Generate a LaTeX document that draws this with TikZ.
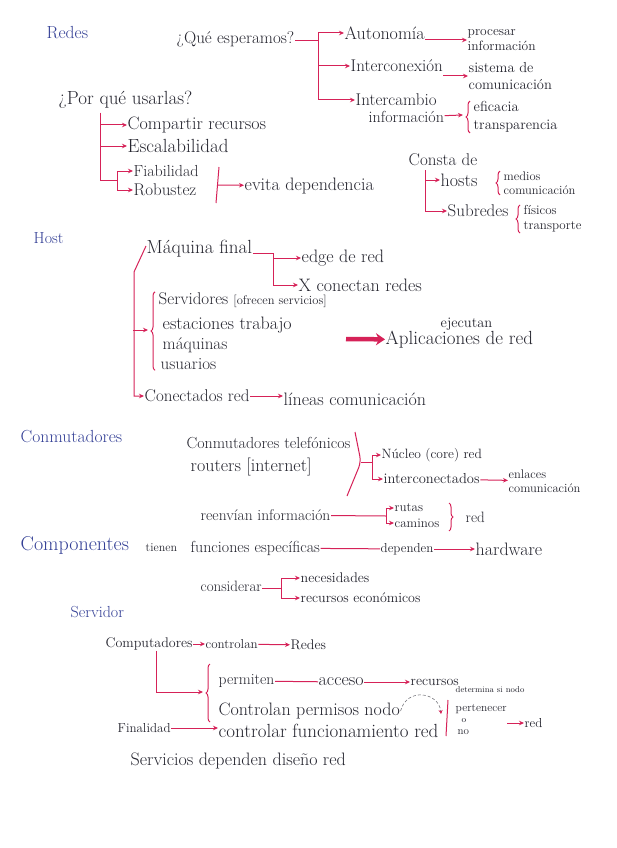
\documentclass[tikz,border=0pt]{standalone}
\usepackage{fontspec}
\usetikzlibrary{arrows.meta, positioning, decorations.pathreplacing, calc}

\definecolor{penblue}{RGB}{52,64,150}
\definecolor{penred}{RGB}{214,34,88}
\definecolor{ink}{RGB}{38,38,48}

\begin{document}
\begin{tikzpicture}[
    x=1pt, y=-1pt,
    sz/.style={font=\fontsize{#1}{#1}\selectfont},
    txt/.style={anchor=west, inner sep=0.5pt, text=ink, sz=17},
    title/.style={txt, text=penblue, sz=17.5},
    note/.style={txt, align=left, sz=13.5},
    small/.style={txt, align=left, sz=12.5},
    tiny/.style={txt, sz=8.5},
    link/.style={penred, line width=1pt},
    arrow/.style={link, -{Stealth[length=5pt, width=4.5pt]}},
    fatarrow/.style={penred, line width=4.5pt, -{Stealth[length=9pt, width=12pt]}},
    brace/.style={link, decorate, decoration={brace, amplitude=4pt}},
    dasharc/.style={ink!70, densely dashed, line width=0.5pt, -{Stealth[length=4pt, width=4pt, color=penred]}}
]
\fill[white] (0,0) rectangle (616,848);
\useasboundingbox (0,0) rectangle (616,848);

% Redes
\node[title] (redes) at (46,33) {Redes};
\node[txt] (espera) at (176,39) {¿Qué esperamos?};
\coordinate (jesp) at (318,41);
\node[txt, sz=18] (auto) at (344,33) {Autonomía};
\node[txt] (inter) at (350,66) {Interconexión};
\node[txt] (camb) at (355,100) {Intercambio};
\node[txt, sz=16] (cinfo) at (368,117) {información};
\draw[link] (espera.east |- jesp) -- (jesp);
\draw[arrow] (jesp) |- (auto);
\draw[arrow] (jesp) |- (inter);
\draw[arrow] (jesp) |- (camb);

\node[note] (proc) at (467,40) {procesar\\[1pt]información};
\node[note, sz=14.5] (sist) at (468,76) {sistema de\\[2pt]comunicación};
\node[note, sz=14.5] (efic) at (473,117) {eficacia\\[3pt]transparencia};
\coordinate (tipefic) at (463,115);
\draw[arrow] (auto.east |- proc) -- (proc);
\draw[arrow] (inter.east |- sist) -- (sist);
\draw[brace] ([xshift=-3pt]efic.south west) -- ([xshift=-3pt]efic.north west);
\draw[arrow] (cinfo) -- (tipefic);

% Por que usarlas
\node[txt, sz=19] (porque) at (58,100) {¿Por qué usarlas?};
\coordinate (jpq) at (100,113);
\coordinate (jpq2) at (100,180);
\coordinate (jfr) at (117,180);
\node[txt, sz=18] (comp) at (127,125) {Compartir recursos};
\node[txt, sz=19] (esca) at (127,146) {Escalabilidad};
\node[txt, sz=16] (fiab) at (133,171) {Fiabilidad};
\node[txt] (robu) at (133,190) {Robustez};
\draw[arrow] (jpq) |- (comp);
\draw[arrow] (jpq) |- (esca);
\draw[link] (jpq) -- (jpq2) -- (jfr);
\draw[arrow] (jfr) |- (fiab);
\draw[arrow] (jfr) |- (robu);
\coordinate (bart) at (219,167);
\coordinate (barb) at (216,203);
\coordinate (barm) at (218,185);
\node[txt, sz=18] (evita) at (244,186) {evita dependencia};
\draw[link] (bart) -- (barb);
\draw[arrow] (barm) -- (evita);

% Consta de
\node[txt] (consta) at (408,160) {Consta de};
\coordinate (jcon) at (425,170);
\node[txt, sz=18] (hosts) at (440,180) {hosts};
\node[txt] (subr) at (447,211) {Subredes};
\draw[arrow] (jcon) |- (hosts);
\draw[arrow] (jcon) |- (subr);
\node[small] (medios) at (503,183) {medios\\[1pt]comunicación};
\node[small, sz=13] (fisicos) at (523,219) {físicos\\[2pt]transporte};
\draw[brace] ([xshift=-3pt]medios.south west) -- ([xshift=-3pt]medios.north west);
\draw[brace] ([xshift=-3pt]fisicos.south west) -- ([xshift=-3pt]fisicos.north west);

% Host
\node[title, sz=16] (host) at (33,238) {Host};
\node[txt, sz=19] (maq) at (146,249) {Máquina final};
\coordinate (jmaq) at (273,253);
\node[txt, sz=18] (edge) at (301,258) {edge de red};
\node[txt, sz=18] (xcon) at (298,285) {X conectan redes};
\draw[link] (maq.east |- jmaq) -- (jmaq);
\draw[arrow] (jmaq) |- (edge);
\draw[arrow] (jmaq) |- (xcon);

\node[txt, sz=17] (serv) at (158,300) {Servidores {\fontsize{12.5}{12.5}\selectfont [ofrecen servicios]}};
\node[txt, sz=18] (estac) at (162,325) {estaciones trabajo};
\node[txt] (maqs) at (162,345) {máquinas};
\node[txt] (usua) at (160,364) {usuarios};
\draw[brace] ([xshift=-5pt]usua.south west) -- ([xshift=-3pt]serv.north west);
\coordinate (hbend) at (134,272);
\coordinate (hmid) at (133,330);
\coordinate (tiplist) at (148,330);
\node[txt] (conect) at (144,396) {Conectados red};
\node[txt, sz=18] (lineas) at (283,399) {líneas comunicación};
\draw[arrow] ([yshift=3pt]maq.west) -- (hbend) |- (conect);
\draw[arrow] (hmid) -- (tiplist);
\draw[arrow] (conect) -- (conect -| lineas.west);

\coordinate (tkst) at (346,339);
\node[txt, sz=19] (apl) at (385,340) {Aplicaciones de red};
\node[txt, sz=14.5] (ejec) at (440,324) {ejecutan};
\draw[fatarrow] (tkst) -- (apl);

% Conmutadores
\node[title] (conm) at (20,437) {Conmutadores};
\node[txt, sz=16] (ctel) at (186,443) {Conmutadores telefónicos};
\node[txt, sz=18] (rout) at (190,467) {routers [internet]};
\coordinate (pt) at (355,432);
\coordinate (pm) at (361,462);
\coordinate (pb) at (347,496);
\coordinate (jnuc) at (372,462);
\draw[link, rounded corners=6pt] (pt) -- (pm) -- (pb);
\draw[link] (pm) -- (jnuc);
\node[txt, sz=13.5] (nucl) at (381,455) {Núcleo (core) red};
\node[txt, sz=14.5] (inco) at (383,479) {interconectados};
\draw[arrow] (jnuc) |- (nucl);
\draw[arrow] (jnuc) |- (inco);
\node[small, sz=12.5] (enla) at (508,481) {enlaces\\[1pt]comunicación};
\draw[arrow] (inco) -- (enla);

\node[txt, sz=15.5] (reen) at (200,515) {reenvían información};
\coordinate (jreen) at (386,516);
\node[txt, sz=13] (rutas) at (394,508) {rutas};
\node[txt, sz=13] (cami) at (394,523) {caminos};
\draw[link] (reen) -- (jreen);
\draw[arrow] (jreen) |- (rutas);
\draw[arrow] (jreen) |- (cami);
\draw[brace] (449,503) -- (449,531);
\node[txt, sz=15] (redcm) at (465,517) {red};

% Componentes
\node[title, sz=20] (compo) at (20,545) {Componentes};
\node[txt, sz=12] (tien) at (145,548) {tienen};
\node[txt, sz=16] (func) at (190,548) {funciones específicas};
\node[txt, sz=13] (dep) at (380,549) {dependen};
\node[txt, sz=18] (hard) at (475,549) {hardware};
\draw[link] (func) -- (dep);
\draw[arrow] (dep) -- (hard);

\node[txt, sz=15] (cons) at (200,586) {considerar};
\coordinate (jcons) at (281,588);
\node[txt, sz=14] (nece) at (300,578) {necesidades};
\node[txt, sz=14] (recu) at (300,598) {recursos económicos};
\draw[link] (cons.east |- jcons) -- (jcons);
\draw[arrow] (jcons) |- (nece);
\draw[arrow] (jcons) |- (recu);

% Servidor
\node[title, sz=16] (servi) at (70,612) {Servidor};
\node[txt, sz=14] (compu) at (105,644) {Computadores};
\node[txt, sz=13] (ctrl) at (205,644) {controlan};
\node[txt, sz=14] (redsv) at (290,645) {Redes};
\draw[arrow] (compu) -- (ctrl);
\draw[arrow] (ctrl) -- (redsv);
\coordinate (tipsv) at (203,692);
\draw[arrow] ([xshift=7pt]compu.south) |- (tipsv);
\draw[brace] (210,722) -- (210,664);

\node[txt, sz=15.5] (perm) at (218,681) {permiten};
\node[txt, sz=18] (acc) at (318,682) {acceso};
\node[txt, sz=14] (recs) at (410,682) {recursos};
\draw[link] (perm) -- (acc);
\draw[arrow] (acc) -- (recs);

\node[txt, sz=18] (cperm) at (218,711) {Controlan permisos nodo};
\coordinate (dtip) at (441,714);
\draw[dasharc] (cperm.east) .. controls +(6,-24) and +(-2,-22) .. (dtip);
\node[tiny] (determ) at (455,690) {determina si nodo};
\draw[link] (448,700) -- (446,736);
\node[txt, sz=11.5] (pert) at (455,709) {pertenecer};
\node[txt, sz=9] (po) at (461,721) {o};
\node[txt, sz=11] (pno) at (457,732) {no};
\node[txt, sz=13] (redp) at (524,723) {red};
\draw[arrow] (pert.east |- redp) -- (redp);

\node[txt, sz=13] (fin) at (117,728) {Finalidad};
\node[txt, sz=19] (ctrlf) at (218,731) {controlar funcionamiento red};
\draw[arrow] (fin) -- (fin -| ctrlf.west);
\node[txt, sz=18] (servs) at (130,761) {Servicios dependen diseño red};

\end{tikzpicture}
\end{document}
